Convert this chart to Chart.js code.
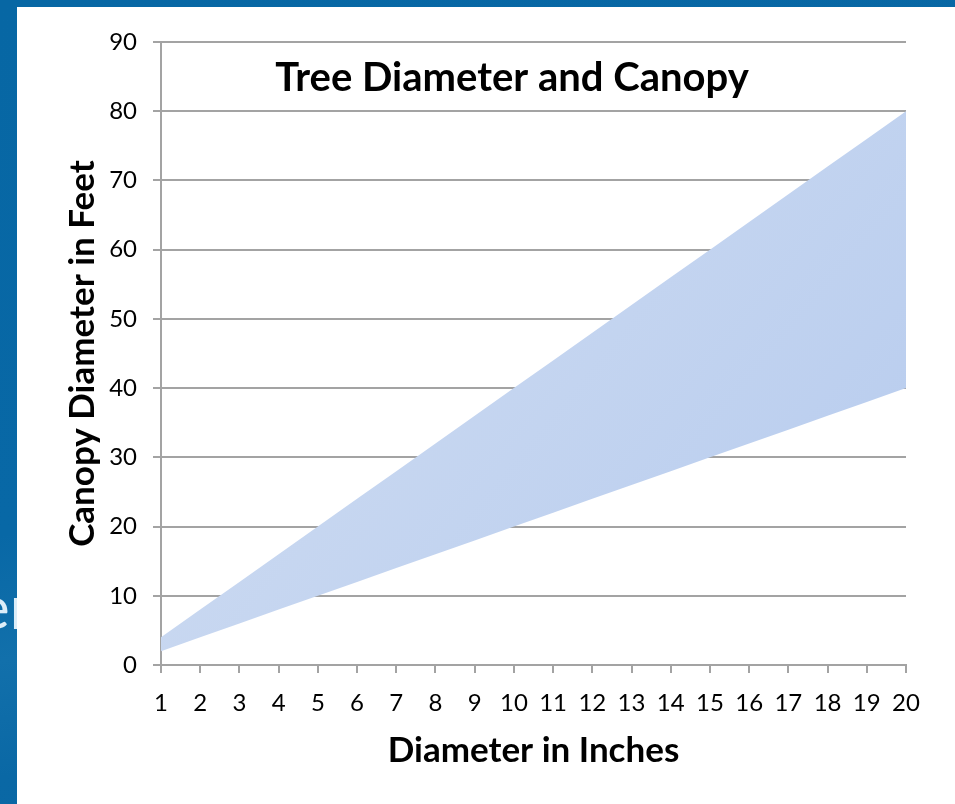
<!DOCTYPE html>
<html>
<head>
<meta charset="utf-8">
<script src="https://cdn.jsdelivr.net/npm/chart.js@4.4.1/dist/chart.umd.min.js"></script>
<style>
  html, body { margin: 0; padding: 0; }
  body { width: 955px; height: 804px; overflow: hidden; position: relative;
         background: linear-gradient(170deg, #0767a4 0%, #0868a6 55%, #1270ab 68%, #0a68a5 80%, #0767a4 100%); }
  #slideText { position: absolute; left: -22px; top: 570px; font-family: Lato, sans-serif;
               font-size: 60px; color: #dcedf8; white-space: nowrap; }
  #panel { position: absolute; left: 17px; top: 7px; width: 938px; height: 797px; background: #fff; }
</style>
</head>
<body>
<div id="slideText">er</div>
<div id="panel"><canvas id="myChart" width="938" height="797"></canvas></div>
<script>
// tree diameter (inches) on the x axis
var diameters = ['1', '2', '3', '4', '5', '6', '7', '8', '9', '10',
    '11', '12', '13', '14', '15', '16', '17', '18', '19', '20'];
// canopy range in feet
var canopyLow = [2, 4, 6, 8, 10, 12, 14, 16, 18, 20, 22, 24, 26, 28, 30, 32, 34, 36, 38, 40];
var canopyHigh = [4, 8, 12, 16, 20, 24, 28, 32, 36, 40, 44, 48, 52, 56, 60, 64, 68, 72, 76, 80];
var yTicks = [0, 10, 20, 30, 40, 50, 60, 70, 80, 90];

var gridColor = '#a3a3a3';
var fontName = 'Lato, sans-serif';

var titlePlugin = {
    id: 'insideTitle',
    afterDraw: function (chart) {
        var ctx = chart.ctx;
        ctx.save();
        ctx.font = 'bold 40px ' + fontName;
        ctx.fillStyle = '#000';
        ctx.textAlign = 'center';
        ctx.textBaseline = 'middle';
        ctx.fillText('Tree Diameter and Canopy', 495, 71);
        ctx.restore();
    }
};

function bandFill(context) {
    var area = context.chart.chartArea;
    if (!area) return '#c6d6ef';
    var g = context.chart.ctx.createLinearGradient(area.left, area.top, area.right, area.bottom);
    g.addColorStop(0, '#d3dff2');
    g.addColorStop(1, '#b6cbee');
    return g;
}

new Chart('myChart', {
    type: 'line',
    data: {
        labels: diameters,
        datasets: [{
            label: 'Low',
            data: canopyLow,
            borderWidth: 0,
            pointRadius: 0,
            fill: false
        }, {
            label: 'High',
            data: canopyHigh,
            borderWidth: 0,
            pointRadius: 0,
            fill: '-1',
            backgroundColor: bandFill
        }]
    },
    plugins: [titlePlugin],
    options: {
        responsive: false,
        animation: false,
        layout: { padding: { top: 35, right: 49, left: 0, bottom: 0 } },
        plugins: {
            legend: { display: false },
            tooltip: { enabled: false }
        },
        scales: {
            x: {
                offset: false,
                grid: { display: true, drawOnChartArea: false, drawTicks: true, tickLength: 8, color: gridColor, lineWidth: 2, offset: false },
                border: { display: true, color: gridColor, width: 2 },
                ticks: { color: '#000', font: { family: fontName, size: 24 }, padding: 16, maxRotation: 0, autoSkip: false },
                title: { display: true, text: 'Diameter in Inches', color: '#000', font: { family: fontName, size: 35, weight: 'bold' }, padding: { top: 0, bottom: 32 } },
                afterFit: function (scale) { scale.height = 139; }
            },
            y: {
                min: 0,
                max: 90,
                afterBuildTicks: function (scale) {
                    scale.ticks = yTicks.map(function (v) { return { value: v }; });
                },
                grid: { color: gridColor, lineWidth: 2, tickLength: 8 },
                border: { display: true, color: gridColor, width: 2 },
                ticks: { color: '#000', font: { family: fontName, size: 24 }, padding: 16 },
                title: { display: true, text: 'Canopy Diameter in Feet', color: '#000', font: { family: fontName, size: 35, weight: 'bold' }, padding: { top: 45, bottom: 0 } },
                afterFit: function (scale) { scale.width = 144; }
            }
        }
    }
});
</script>
</body>
</html>
